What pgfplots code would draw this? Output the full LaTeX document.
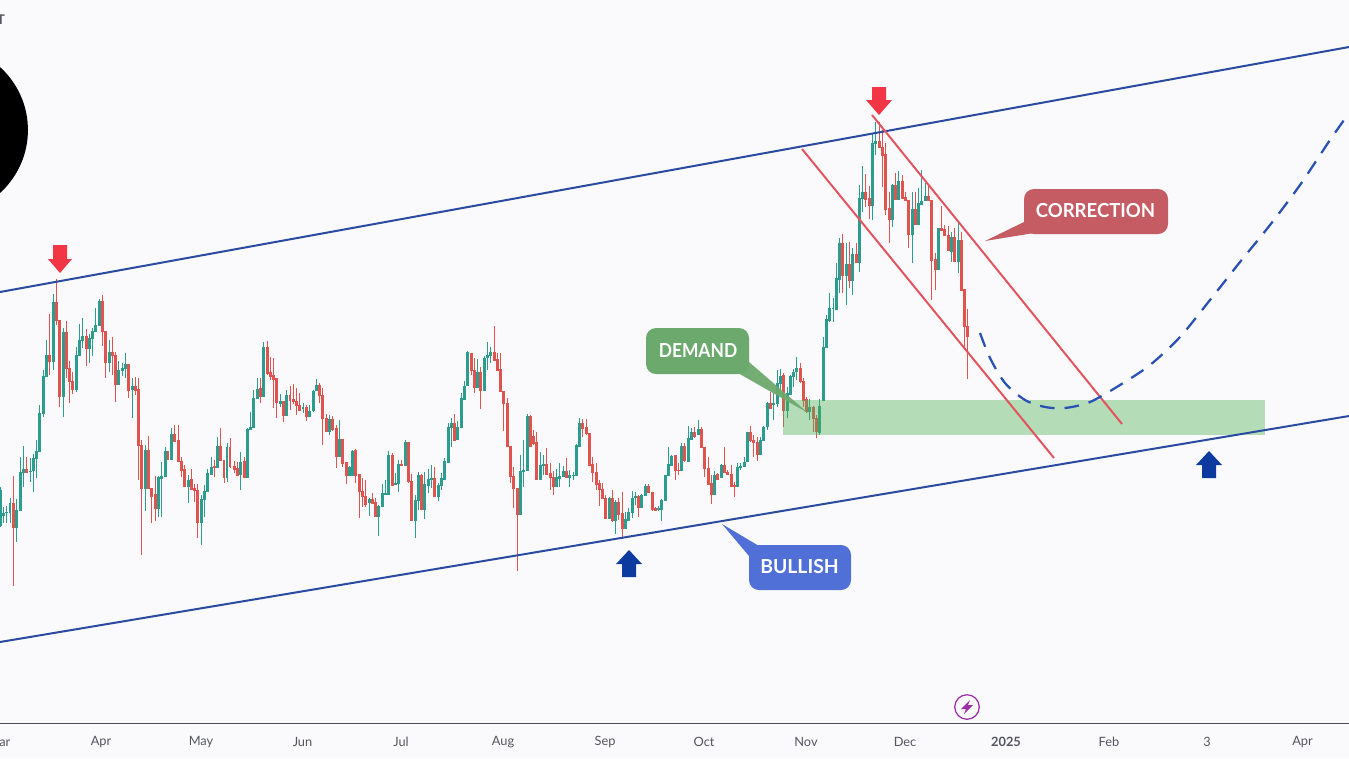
\documentclass[border=0pt]{standalone}
\usepackage{pgfplots}
\usepackage{pgfplotstable}
\usepackage{fontspec}
\setmainfont{Lato}
\pgfplotsset{compat=1.18}
\definecolor{bgc}{HTML}{FAFAFD}
\definecolor{upc}{HTML}{2B9C8E}
\definecolor{dnc}{HTML}{E05450}
\definecolor{chanc}{HTML}{2A4BA0}
\definecolor{redl}{HTML}{E2555F}
\definecolor{dashc}{HTML}{2A52B5}
\definecolor{arrc}{HTML}{F23645}
\definecolor{arbc}{HTML}{0D3A9E}
\definecolor{cgc}{HTML}{6CA96D}
\definecolor{crc}{HTML}{C55C64}
\definecolor{cbc}{HTML}{5070D8}
\definecolor{axc}{HTML}{4A4A58}
\definecolor{txc}{HTML}{555560}
\definecolor{purc}{HTML}{9C2FA8}
\definecolor{zonec}{HTML}{4CAF50}
% columns: x (crop px), c (1 red, 0 green), body top, body bottom, wick top, wick bottom
\pgfplotstableread{
x c t b wt wb
1 0 690 797 680 800
10 0 760 765 742 790
20 0 756 758 738 790
30 0 728 758 714 790
40 1 728 803 648 977
50 0 750 803 716 845
61 0 636 752 592 752
70 0 628 636 558 680
80 1 627 637 590 638
91 0 632 634 595 665
100 0 595 632 583 697
110 0 574 595 540 655
118 0 460 575 435 575
130 0 348 460 330 472
140 0 285 348 240 347
149 1 285 305 162 345
160 0 126 305 102 330
169 1 126 181 58 195
179 1 180 410 180 440
190 0 216 410 205 472
199 1 216 325 183 355
208 1 325 365 303 428
218 1 363 387 335 403
229 0 286 387 262 395
238 0 240 286 192 288
247 0 228 241 175 265
259 1 228 266 208 317
268 0 235 266 222 310
277 0 213 235 205 287
286 0 195 215 145 215
298 0 123 197 117 197
307 1 123 215 105 258
316 1 213 308 213 353
328 0 277 308 240 335
337 1 277 287 230 345
346 1 285 372 275 425
355 0 330 372 303 375
367 0 325 332 310 348
376 0 313 325 279 355
385 1 313 390 313 415
397 0 378 388 355 473
406 1 378 390 350 405
415 1 387 557 353 660
424 1 555 686 540 884
436 0 570 686 555 752
445 1 570 686 528 686
454 1 684 708 684 788
466 1 702 744 648 782
475 0 650 744 648 772
485 0 648 655 605 770
496 0 573 650 560 650
504 1 573 597 573 600
514 0 522 597 505 597
523 1 522 543 495 543
535 1 540 605 495 605
544 1 603 630 590 652
553 1 628 680 615 680
565 0 660 680 645 730
574 1 657 688 628 690
583 1 685 691 672 725
592 1 690 788 672 833
604 0 718 788 705 856
613 0 692 718 675 772
622 0 640 695 628 695
634 0 620 642 592 642
643 1 618 622 600 650
653 0 558 622 530 622
661 1 558 602 503 602
672 1 600 653 600 668
681 0 560 653 550 665
690 1 560 620 533 625
703 1 618 627 603 640
712 1 625 645 605 648
721 0 605 643 575 690
733 1 603 653 590 653
743 0 507 653 505 655
751 0 502 508 455 508
760 0 415 503 390 503
773 0 388 415 355 415
781 1 385 410 355 428
790 0 262 410 245 410
802 1 262 340 243 345
}\panelA
\pgfplotstableread{
x c t b wt wb
2 1 155 170 110 180
10 1 165 178 115 265
19 1 175 248 175 293
31 0 243 250 222 260
40 1 243 287 243 305
49 0 225 287 210 287
60 1 225 242 197 270
70 1 238 245 193 252
79 1 243 257 205 285
88 1 255 270 220 270
99 0 262 265 250 280
109 1 262 290 255 302
118 0 272 290 255 292
130 0 212 272 210 277
139 0 195 212 177 212
148 1 195 227 190 250
157 1 225 296 205 375
169 1 294 335 282 337
178 0 296 335 286 345
187 1 296 327 287 333
199 1 323 410 315 443
208 0 358 410 300 410
217 1 357 430 357 440
229 1 427 466 427 492
238 0 440 465 438 465
247 0 392 465 390 465
256 1 390 465 388 490
268 1 462 515 462 593
277 1 513 530 473 560
286 1 528 552 480 562
298 0 537 548 535 587
307 1 537 550 520 552
316 1 547 590 533 592
325 0 558 590 555 647
337 0 520 560 492 562
346 0 520 522 480 522
355 0 405 522 393 522
367 1 405 495 398 497
376 0 489 492 460 492
385 0 432 490 420 515
394 1 432 436 420 437
406 0 365 435 360 435
415 1 365 485 365 488
424 1 483 600 463 602
436 0 540 600 525 653
445 0 465 542 455 570
454 1 465 567 462 567
463 0 492 567 455 597
475 0 477 495 448 520
484 0 475 478 435 505
493 1 475 530 440 532
505 0 495 530 488 542
514 0 475 497 460 510
523 0 423 477 415 477
535 0 322 428 310 430
544 0 310 322 295 380
553 1 310 360 282 362
562 0 322 357 302 357
574 0 235 323 218 325
583 0 197 237 183 238
592 0 97 197 93 197
604 1 98 152 98 165
613 1 150 203 113 220
622 0 155 203 117 205
631 1 155 212 140 266
643 0 113 212 108 212
652 0 105 113 67 150
661 0 97 107 80 130
673 1 97 120 18 122
682 1 118 150 100 150
691 1 148 214 98 214
700 1 213 250 213 333
712 1 250 380 235 380
721 1 378 470 378 490
730 1 468 505 440 565
742 1 503 582 503 752
751 0 454 582 405 582
760 0 451 455 360 500
772 0 288 450 282 450
781 1 288 378 285 378
790 1 348 370 330 375
799 1 366 478 335 478
811 0 435 478 395 478
820 0 433 436 405 465
829 1 433 462 385 465
}\panelB
\pgfplotstableread{
x c t b wt wb
31 1 400 412 370 450
40 1 410 440 392 465
49 0 410 440 388 440
58 0 408 415 368 440
70 0 392 410 378 410
79 1 392 412 355 412
88 0 405 413 390 440
100 0 404 406 395 420
109 0 316 405 313 407
118 0 250 318 235 318
127 1 250 265 238 290
139 1 262 280 238 285
148 1 280 375 280 375
157 1 373 398 350 425
169 1 396 432 368 450
178 1 430 448 420 497
187 1 446 474 430 475
196 1 473 535 465 535
208 0 473 535 470 537
217 1 473 542 450 545
226 0 485 542 480 582
235 1 485 522 475 540
247 1 520 565 455 598
256 0 537 565 515 565
265 0 517 540 505 542
277 0 475 517 452 535
286 0 468 473 455 495
295 1 467 503 465 530
304 0 465 502 462 502
316 0 438 467 432 467
325 1 437 458 432 460
337 1 455 507 455 513
346 1 505 510 500 512
355 0 503 507 498 512
365 0 481 507 478 542
376 0 405 482 405 482
385 0 373 407 322 407
394 0 347 375 345 375
406 1 345 392 345 420
415 1 390 392 370 405
424 0 318 390 310 390
433 1 318 362 310 365
445 0 295 364 258 364
454 0 277 297 263 297
463 1 277 290 262 295
475 0 268 282 240 285
484 1 268 323 262 325
493 1 322 386 322 410
505 1 384 432 352 432
514 1 430 462 405 492
523 0 405 462 392 462
532 1 403 417 400 420
544 0 375 412 372 412
553 1 375 398 322 398
562 1 396 402 390 402
574 1 402 438 375 440
583 1 436 440 425 470
592 0 380 440 370 440
601 0 377 383 370 390
613 0 365 378 352 378
622 0 275 365 275 365
631 1 275 302 258 305
640 1 300 308 285 350
652 1 306 342 292 362
661 0 300 342 290 342
670 0 260 302 258 302
682 0 190 260 187 270
691 1 190 204 155 204
700 0 188 192 160 240
712 0 130 190 90 200
721 0 108 130 88 165
730 1 105 212 100 260
742 0 160 212 140 235
752 0 108 162 105 165
760 0 95 110 88 140
770 0 85 95 52 120
782 1 85 125 70 128
791 1 123 180 113 200
800 1 178 215 170 220
809 0 200 215 178 240
820 1 200 235 198 275
830 1 235 275 225 295
839 0 198 277 178 285
}\panelC
\pgfplotstableread{
x c t b wt wb
41 0 800 960 770 960
50 0 717 803 705 805
59 0 685 720 640 725
69 0 683 685 655 725
79 0 595 687 548 687
88 0 488 597 475 640
98 1 488 585 462 640
109 0 553 585 488 675
118 1 553 602 485 625
127 0 522 602 505 645
139 1 522 548 488 548
148 0 355 548 315 575
157 0 335 355 258 395
166 1 335 357 283 380
178 1 355 375 318 418
187 0 190 375 160 420
196 0 183 190 125 225
208 1 183 203 125 205
217 1 201 225 150 320
226 1 223 387 190 405
238 1 385 417 335 490
247 0 316 417 312 440
256 1 316 358 280 358
265 0 303 358 272 358
277 1 303 355 285 355
286 1 352 362 335 362
295 1 360 462 360 505
307 0 387 462 335 550
316 1 387 432 335 432
325 0 370 432 325 432
334 0 362 372 270 372
346 0 348 362 310 362
355 1 348 362 315 362
364 1 360 540 360 660
376 1 538 567 520 630
385 0 445 567 445 567
394 1 445 450 378 450
403 1 448 467 435 467
415 1 465 512 438 512
424 0 472 515 455 545
433 1 472 545 445 545
445 0 480 543 430 580
454 1 480 630 455 630
463 1 628 740 628 800
472 1 738 770 688 898
}\panelD
% #1 table, #2 x offset, #3 y offset, #4 flag, #5 colour
\newcommand{\candles}[5]{%
 \addplot[draw=none,no marks,forget plot,unbounded coords=discard,
   error bars/.cd,y dir=both,y explicit,error mark=none,
   error bar style={draw=#5,line width=0.75pt}]
   table[x expr=\thisrow{x}/3+#2,
         y expr={\thisrow{c}==#4 ? #3+\thisrow{t}/3 : nan},
         y error plus expr=(\thisrow{wb}-\thisrow{t})/3,
         y error minus expr=(\thisrow{t}-\thisrow{wt})/3] {#1};
 \addplot[draw=none,no marks,forget plot,unbounded coords=discard,
   error bars/.cd,y dir=plus,y explicit,error mark=none,
   error bar style={draw=#5,line width=2.2pt}]
   table[x expr=\thisrow{x}/3+#2,
         y expr={\thisrow{c}==#4 ? #3+\thisrow{t}/3 : nan},
         y error plus expr=(\thisrow{b}-\thisrow{t}+2)/3] {#1};
}
\newcommand{\panel}[3]{\candles{#1}{#2}{#3}{0}{upc}\candles{#1}{#2}{#3}{1}{dnc}}
\begin{document}
\begin{tikzpicture}
\clip (0,-26.25pt) rectangle (1011.75pt,542.25pt);
\fill[bgc] (0,-26.25pt) rectangle (1011.75pt,542.25pt);
\begin{axis}[at={(-150pt,0)},anchor=south west,scale only axis,
  width=1161.75pt,height=542.25pt,
  xmin=-200,xmax=1349,ymin=0,ymax=723,y dir=reverse,
  axis x line=bottom,axis y line=none,
  x axis line style={-,draw=axc,line width=0.75pt},
  major tick length=0pt,
  xtick={-1,101,201,302.5,401,503,605,704,806,905,1006,1109,1207,1302.5},
  xticklabels={Mar,Apr,May,Jun,Jul,Aug,Sep,Oct,Nov,Dec,\textbf{2025},Feb,3,Apr},
  x tick label style={font=\fontsize{9.6pt}{11pt}\selectfont,text=txc,anchor=center,yshift=-14pt},
  clip=false]
% logo and cut-off symbol
\fill[black] (axis cs:-57,130) circle[radius=63.7pt];
\node[anchor=east,inner sep=0pt,font=\fontsize{10pt}{12pt}\selectfont\bfseries,text=txc] at (axis cs:5,20) {USDT};
% candles
\panel{\panelA}{0}{260}
\panel{\panelB}{270}{320}
\panel{\panelC}{540}{340}
\panel{\panelD}{810}{80}
% demand zone
\addplot[fill=zonec,fill opacity=0.4,draw=none,forget plot] coordinates {(783,400)(1265,400)(1265,435)(783,435)} -- cycle;
% channels
\addplot[chanc,line width=1.5pt,forget plot] coordinates {(0,292)(1349,47)};
\addplot[chanc,line width=1.5pt,forget plot] coordinates {(0,642)(1349,416)};
\addplot[redl,line width=1.5pt,forget plot] coordinates {(872,115)(1122,424)};
\addplot[redl,line width=1.5pt,forget plot] coordinates {(802,149)(1054,458)};
% projected path
\addplot[dashc,line width=1.7pt,smooth,dash pattern=on 11pt off 7.5pt,forget plot] coordinates {(980,333)(990,358)(1005,383)(1025,400)(1045,407)(1065,408)(1090,402)(1120,385)(1150,365)(1180,337)(1210,300)(1240,262)(1270,225)(1300,185)(1330,140)(1349,113)};
% arrows
\addplot[fill=arrc,draw=none,forget plot] coordinates {(53,245)(67,245)(67,259)(72,259)(60,273)(48,259)(53,259)} -- cycle;
\addplot[fill=arrc,draw=none,forget plot] coordinates {(872,87)(886,87)(886,100)(892,100)(879,115)(866,100)(872,100)} -- cycle;
\addplot[fill=arbc,draw=none,forget plot] coordinates {(622,577)(636,577)(636,564)(642,564)(629,550)(616,564)(622,564)} -- cycle;
\addplot[fill=arbc,draw=none,forget plot] coordinates {(1202,478)(1216,478)(1216,465)(1222,465)(1209,451)(1196,465)(1202,465)} -- cycle;
% callouts
\addplot[fill=cgc,draw=none,fill opacity=0.95,forget plot] coordinates {(738,373)(749,362)(808,413)} -- cycle;
\fill[cgc,rounded corners=7.5pt] (axis cs:646,328) rectangle (axis cs:749,374);
\node[text=white,font=\fontsize{14.5pt}{16pt}\selectfont\bfseries] at (axis cs:698,350.5) {\scalebox{0.9}[1]{DEMAND}};
\addplot[fill=crc,draw=none,forget plot] coordinates {(1024,222)(985,241)(1034,233)} -- cycle;
\fill[crc,rounded corners=7.5pt] (axis cs:1024,189) rectangle (axis cs:1168,234);
\node[text=white,font=\fontsize{14.5pt}{16pt}\selectfont\bfseries] at (axis cs:1095.5,210.5) {\scalebox{0.96}[1]{CORRECTION}};
\addplot[fill=cbc,draw=none,forget plot] coordinates {(722,524)(759,546)(749,556)} -- cycle;
\fill[cbc,rounded corners=7.5pt] (axis cs:749,545) rectangle (axis cs:851,590);
\node[text=white,font=\fontsize{14.5pt}{16pt}\selectfont\bfseries] at (axis cs:799.5,566.5) {BULLISH};
% lightning badge
\draw[purc,line width=0.95pt] (axis cs:967,707) circle[radius=9.2pt];
\addplot[fill=purc,draw=none,forget plot] coordinates {(970,700)(961,709)(966,709)(964,714)(973,705)(968,705)} -- cycle;
\end{axis}
\end{tikzpicture}
\end{document}
